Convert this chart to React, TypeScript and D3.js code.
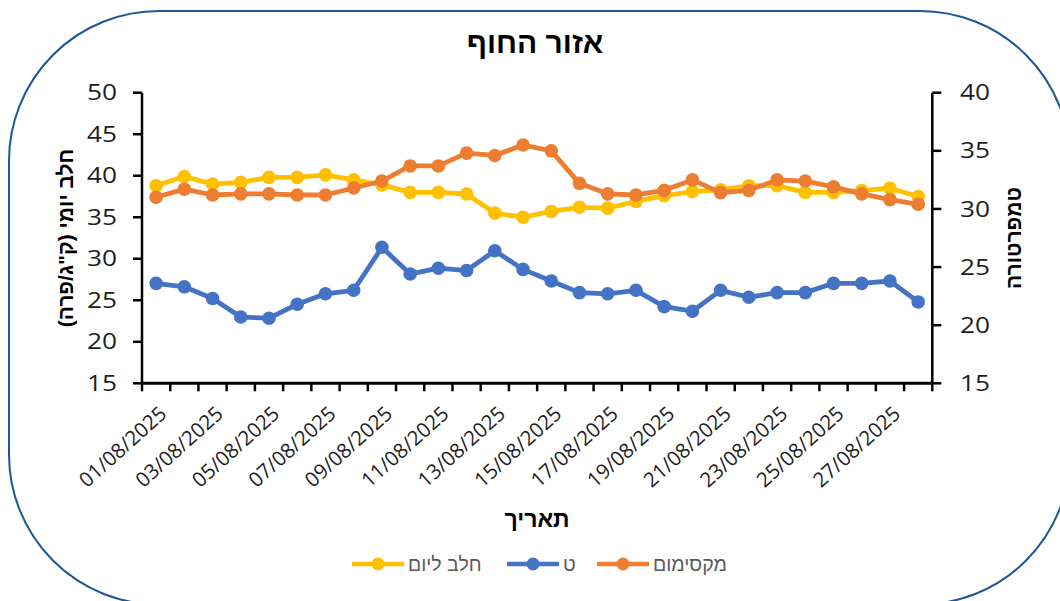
import React from "react";
import * as d3 from "d3";

const dates = [
  "01/08/2025","02/08/2025","03/08/2025","04/08/2025","05/08/2025","06/08/2025","07/08/2025",
  "08/08/2025","09/08/2025","10/08/2025","11/08/2025","12/08/2025","13/08/2025","14/08/2025",
  "15/08/2025","16/08/2025","17/08/2025","18/08/2025","19/08/2025","20/08/2025","21/08/2025",
  "22/08/2025","23/08/2025","24/08/2025","25/08/2025","26/08/2025","27/08/2025","28/08/2025",
];
const milk = [38.8,39.9,39.0,39.2,39.8,39.8,40.1,39.5,38.9,38.0,38.0,37.8,35.5,35.0,35.7,36.2,36.1,36.9,37.6,38.1,38.3,38.8,38.8,38.0,38.0,38.2,38.5,37.5];
const tempT = [23.6,23.3,22.3,20.7,20.6,21.8,22.7,23.0,26.7,24.4,24.9,24.7,26.4,24.8,23.8,22.8,22.7,23.0,21.6,21.2,23.0,22.4,22.8,22.8,23.6,23.6,23.8,22.0];
const tempMax = [31.0,31.7,31.2,31.3,31.3,31.2,31.2,31.8,32.4,33.7,33.7,34.8,34.6,35.5,35.0,32.2,31.3,31.2,31.6,32.5,31.4,31.6,32.5,32.4,31.9,31.3,30.8,30.4];
const leftTicks = [15,20,25,30,35,40,45,50];
const rightTicks = [15,20,25,30,35,40];

const title = "אזור החוף";
const leftTitle = "חלב יומי (ק\"ג/פרה)";
const rightTitle = "טמפרטורה";
const xTitle = "תאריך";
const legendNames = ["מקסימום", "ט", "חלב ליום"];

const C_MILK = "#FFC000";
const C_T = "#4472C4";
const C_MAX = "#ED7D31";

export default function App() {
  const W = 1060, H = 601;
  const x0 = 142, x1 = 932.3, yTop = 92.7, yBot = 383.3;
  const x = d3.scaleBand<string>().domain(dates).range([x0, x1]);
  const yL = d3.scaleLinear().domain([15, 50]).range([yBot, yTop]);
  const yR = d3.scaleLinear().domain([15, 40]).range([yBot, yTop]);
  const cx = (d: string) => (x(d) as number) + x.bandwidth() / 2;

  const mk = (vals: number[], sc: d3.ScaleLinear<number, number>) =>
    d3.line<number>().x((_, i) => cx(dates[i])).y((v) => sc(v))(vals) as string;

  const series = [
    { vals: milk, sc: yL, color: C_MILK },
    { vals: tempT, sc: yR, color: C_T },
    { vals: tempMax, sc: yR, color: C_MAX },
  ];

  const tickFont = "'Open Sans', 'DejaVu Sans', sans-serif";
  const hebFont = "'Liberation Sans', 'DejaVu Sans', Arial, sans-serif";
  const boundaries = d3.range(dates.length + 1).map((i) => x0 + i * x.bandwidth());

  const legend = [
    { name: legendNames[0], color: C_MAX, lx: 597, tx: 653 },
    { name: legendNames[1], color: C_T, lx: 507, tx: 563 },
    { name: legendNames[2], color: C_MILK, lx: 352, tx: 408 },
  ];

  return (
    <svg width={W} height={H} style={{ position: "absolute", left: 0, top: 0, background: "#fff" }}>
      <rect x={0} y={0} width={W} height={H} fill="#fff" />
      <rect x={9} y={11} width={1061} height={593.5} rx={150} ry={150} fill="none" stroke="#1c5796" strokeWidth={2} />

      <text x={535} y={53} textAnchor="middle" fontFamily={hebFont} fontWeight="bold" fontSize={30} fill="#000" direction="rtl">{title}</text>

      {/* left axis */}
      <line x1={x0} x2={x0} y1={yTop} y2={yBot} stroke="#000" strokeWidth={2.5} />
      {leftTicks.map((t) => (
        <g key={"l" + t}>
          <line x1={x0 - 9} x2={x0} y1={yL(t)} y2={yL(t)} stroke="#000" strokeWidth={2.5} />
          <text transform={`translate(117,${yL(t)}) scale(1.25,1)`} dy="0.36em" textAnchor="end" fontFamily={tickFont} fontWeight={500} fontSize={21} fill="#1e1e1e">{t}</text>
        </g>
      ))}
      {/* right axis */}
      <line x1={x1} x2={x1} y1={yTop} y2={yBot} stroke="#000" strokeWidth={2.5} />
      {rightTicks.map((t) => (
        <g key={"r" + t}>
          <line x1={x1} x2={x1 + 9} y1={yR(t)} y2={yR(t)} stroke="#000" strokeWidth={2.5} />
          <text transform={`translate(960,${yR(t)}) scale(1.25,1)`} dy="0.36em" textAnchor="start" fontFamily={tickFont} fontWeight={500} fontSize={21} fill="#1e1e1e">{t}</text>
        </g>
      ))}
      {/* x axis */}
      <line x1={x0} x2={x1} y1={yBot} y2={yBot} stroke="#000" strokeWidth={3} />
      {boundaries.map((bx, i) => (
        <line key={"b" + i} x1={bx} x2={bx} y1={yBot} y2={yBot + 8} stroke="#000" strokeWidth={2.5} />
      ))}
      {dates.map((d, i) =>
        i % 2 === 0 ? (
          <text key={"x" + d} transform={`translate(${cx(d) + 7},${yBot + 27}) rotate(-42)`} textAnchor="end" dy="0.35em"
            fontFamily={tickFont} fontWeight={500} fontSize={20.5} fill="#1e1e1e">{d}</text>
        ) : null
      )}

      {/* axis titles */}
      <text transform={`translate(73,238) rotate(-90)`} textAnchor="middle" fontFamily={hebFont} fontWeight="bold" fontSize={21} fill="#000" direction="rtl">{leftTitle}</text>
      <text transform={`translate(1021,238) rotate(-90)`} textAnchor="middle" fontFamily={hebFont} fontWeight="bold" fontSize={21} fill="#000" direction="rtl">{rightTitle}</text>
      <text x={537} y={527} textAnchor="middle" fontFamily={hebFont} fontWeight="bold" fontSize={23} fill="#000" direction="rtl">{xTitle}</text>

      {/* series */}
      {series.map((s, k) => (
        <g key={"s" + k}>
          <path d={mk(s.vals, s.sc)} fill="none" stroke={s.color} strokeWidth={4.8} strokeLinejoin="round" />
          {s.vals.map((v, i) => (
            <circle key={i} cx={cx(dates[i])} cy={s.sc(v)} r={6.8} fill={s.color} />
          ))}
        </g>
      ))}

      {/* legend */}
      {legend.map((l) => (
        <g key={l.name}>
          <line x1={l.lx} x2={l.lx + 52} y1={564} y2={564} stroke={l.color} strokeWidth={4.5} />
          <circle cx={l.lx + 26} cy={564} r={6.5} fill={l.color} />
          <text x={l.tx} y={564} dy="0.35em" textAnchor="start" fontFamily={hebFont} fontSize={19.5} fill="#595959">{l.name}</text>
        </g>
      ))}
    </svg>
  );
}
